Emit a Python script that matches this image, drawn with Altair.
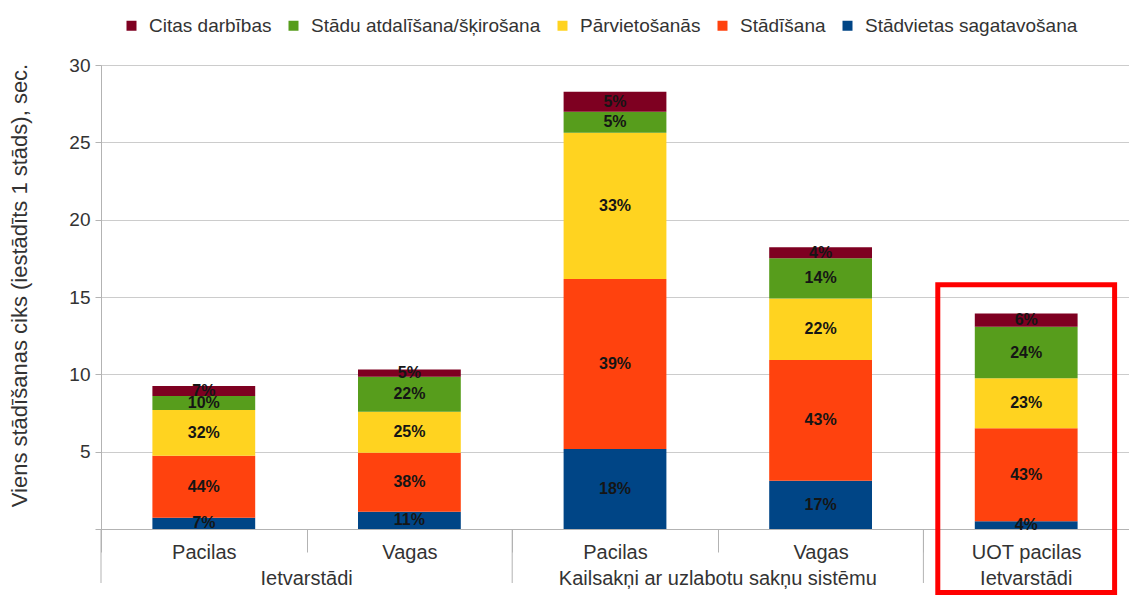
import altair as alt
import pandas as pd

# ---- data ----
subcats = ["Pacilas", "Vagas", "Pacilas", "Vagas", "UOT pacilas"]
keys = [f"{i + 1}|{s}" for i, s in enumerate(subcats)]

group_names_span = ["Ietvarstādi", "Kailsakņi ar uzlabotu sakņu sistēmu"]
group_anchor_span = [keys[1], keys[3]]          # label sits at the boundary left of these bars
group_names_single = ["Ietvarstādi"]
group_anchor_single = [keys[4]]                 # label centred under this bar
long_separators = [keys[0], keys[2], keys[4]]

series = ["Citas darbības", "Stādu atdalīšana/šķirošana", "Pārvietošanās",
          "Stādīšana", "Stādvietas sagatavošana"]
colors = ["#7E0021", "#579D1C", "#FFD320", "#FF420E", "#004586"]

# seconds per segment
prep = [0.73, 1.12, 5.17, 3.12, 0.50]    # Stādvietas sagatavošana
plant = [4.01, 3.81, 10.99, 7.80, 6.01]  # Stādīšana
move = [2.95, 2.65, 9.46, 3.99, 3.23]    # Pārvietošanās
sortv = [0.91, 2.27, 1.36, 2.59, 3.34]   # Stādu atdalīšana/šķirošana
other = [0.64, 0.47, 1.29, 0.71, 0.86]   # Citas darbības

# percentage labels
pct_prep = [7, 11, 18, 17, 4]
pct_plant = [44, 38, 39, 43, 43]
pct_move = [32, 25, 33, 22, 23]
pct_sort = [10, 22, 5, 14, 24]
pct_other = [7, 5, 5, 4, 6]

highlight_key = [keys[4]]
highlight_top = [15.8]
highlight_bottom = [-4.1]

# ---- build table ----
stack_series = [
    ("Stādvietas sagatavošana", prep, pct_prep),
    ("Stādīšana", plant, pct_plant),
    ("Pārvietošanās", move, pct_move),
    ("Stādu atdalīšana/šķirošana", sortv, pct_sort),
    ("Citas darbības", other, pct_other),
]
rows = []
for order, (name, vals, pcts) in enumerate(stack_series):
    for k, v, p in zip(keys, vals, pcts):
        rows.append({"key": k, "series": name, "value": v, "pct": p, "order": order})
df = pd.DataFrame(rows)

W, H = 1028, 464
FONT = "Liberation Sans"
TXT = "#333333"
AX = "#b3b3b3"

xscale = alt.Scale(domain=keys, paddingInner=0, paddingOuter=0)
xaxis = alt.Axis(title=None, labelExpr="split(datum.label, '|')[1]",
                 labelAngle=0, labelFontSize=20, labelColor=TXT,
                 labelFont=FONT, labelLimit=400,
                 tickBand="extent", tickSize=23, tickColor=AX,
                 domainColor=AX, labelPadding=-10, grid=False)
yscale = alt.Scale(domain=[0, 30])
ytitle = "Viens stādīšanas ciks (iestādīts 1 stāds), sec."
yaxis = alt.Axis(title=ytitle,
                 values=[0, 5, 10, 15, 20, 25, 30],
                 labelExpr="datum.value == 0 ? '' : datum.label",
                 labelFontSize=19, labelColor=TXT, labelFont=FONT,
                 tickSize=6, tickColor=AX, domainColor=AX,
                 gridColor="#cccccc", labelPadding=5,
                 titleFontSize=22, titleFontWeight="normal",
                 titleColor=TXT, titleFont=FONT, titlePadding=37,
                 titleY=220)


def xenc(band=0.5):
    return alt.X("key:N", sort=keys, scale=xscale, axis=xaxis, bandPosition=band)


def yenc(field, stack=None):
    if stack:
        return alt.Y(field, stack=stack, scale=yscale, axis=yaxis, title=ytitle)
    return alt.Y(field, stack=None, scale=yscale, axis=yaxis, title=ytitle)


bars = alt.Chart(df).mark_bar(width={"band": 0.5}).encode(
    x=xenc(),
    y=yenc("value:Q", stack="zero"),
    color=alt.Color("series:N", scale=alt.Scale(domain=series, range=colors),
                    legend=alt.Legend(orient="none", legendX=21, legendY=-49,
                                      direction="horizontal", columns=5,
                                      title=None, symbolType="square",
                                      symbolSize=100, symbolStrokeWidth=0,
                                      labelFontSize=19, labelColor=TXT,
                                      labelFont=FONT, labelOffset=8,
                                      columnPadding=12, labelLimit=400)),
    order=alt.Order("order:Q"),
)

labels = alt.Chart(df).transform_stack(
    stack="value", groupby=["key"], as_=["y0", "y1"],
    sort=[alt.SortField("order", order="ascending")],
).transform_calculate(
    mid="(datum.y0 + datum.y1) / 2", lab="datum.pct + '%'"
).mark_text(font=FONT, fontSize=16, fontWeight="bold", color="#151515").encode(
    x=xenc(),
    y=yenc("mid:Q"),
    text="lab:N",
)

sep_df = pd.DataFrame({"key": long_separators})
separators = alt.Chart(sep_df).mark_rule(color=AX, strokeWidth=1).encode(
    x=xenc(0),
    y=alt.value(H),
    y2=alt.value(H + 54),
)

g1 = pd.DataFrame({"key": group_anchor_span, "name": group_names_span})
grp_span = alt.Chart(g1).mark_text(font=FONT, fontSize=20, color=TXT,
                                   baseline="middle").encode(
    x=xenc(0),
    y=alt.value(H + 50),
    text="name:N",
)
g2 = pd.DataFrame({"key": group_anchor_single, "name": group_names_single})
grp_single = alt.Chart(g2).mark_text(font=FONT, fontSize=20, color=TXT,
                                     baseline="middle").encode(
    x=xenc(0.5),
    y=alt.value(H + 50),
    text="name:N",
)

hl_df = pd.DataFrame({"key": highlight_key, "top": highlight_top,
                      "bottom": highlight_bottom})
highlight = alt.Chart(hl_df).mark_bar(width={"band": 0.86}, fillOpacity=0,
                                      stroke="#FF0000", strokeWidth=5,
                                      clip=False).encode(
    x=xenc(),
    y=yenc("top:Q"),
    y2="bottom:Q",
)

chart = alt.layer(bars, labels, separators, grp_span, grp_single, highlight).properties(
    width=W, height=H,
    autosize=alt.AutoSizeParams(type="none"),
    padding={"left": 93, "top": 57, "right": 0, "bottom": 67},
).configure_view(stroke=None).configure(font=FONT)

chart.save("out.html", embed_options={"renderer": "svg", "actions": False})
